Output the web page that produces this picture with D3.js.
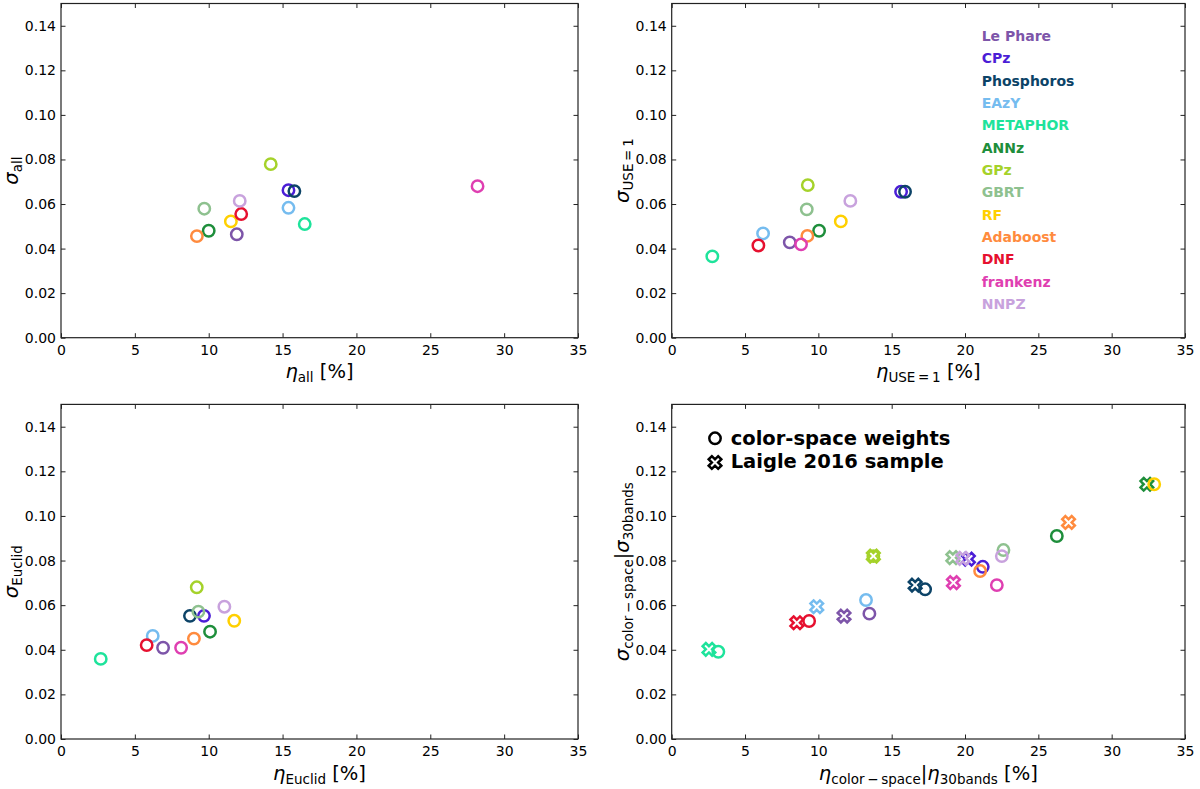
<!DOCTYPE html>
<html>
<head>
<meta charset="utf-8">
<script src="https://cdn.jsdelivr.net/npm/d3@7"></script>
<style>
  body { margin: 0; background: #fff; }
  text { font-family: "DejaVu Sans", sans-serif; }
</style>
</head>
<body>
<div id="chart"></div>
<script>
// photo-z codes, in the order of the legend
var codes = ['Le Phare', 'CPz', 'Phosphoros', 'EAzY', 'METAPHOR', 'ANNz', 'GPz',
             'GBRT', 'RF', 'Adaboost', 'DNF', 'frankenz', 'NNPZ'];
var codeColors = ['#7d55a9', '#4b1ed6', '#0c4367', '#75bcef', '#1ee39b', '#1e8e3b', '#a5d22a',
                  '#8ec18f', '#ffd000', '#ff8b3e', '#e6102f', '#df3fb1', '#c8a2dd'];

// panel a: all sources
var etaAll = [11.9, 15.4, 15.8, 15.4, 16.5, 10.0, 14.2, 9.7, 11.5, 9.2, 12.2, 28.2, 12.1];
var sigAll = [0.0464, 0.0662, 0.0658, 0.0583, 0.0510, 0.0480, 0.0779, 0.0579, 0.0522, 0.0456, 0.0555, 0.0680, 0.0614];

// panel b: USE = 1
var etaUse = [8.05, 15.64, 15.91, 6.23, 2.77, 10.05, 9.28, 9.21, 11.53, 9.25, 5.91, 8.82, 12.18];
var sigUse = [0.0428, 0.0655, 0.0655, 0.0468, 0.0365, 0.0480, 0.0685, 0.0576, 0.0522, 0.0457, 0.0414, 0.0419, 0.0614];

// panel c: Euclid selection
var etaEuclid = [6.91, 9.68, 8.73, 6.21, 2.69, 10.09, 9.19, 9.30, 11.73, 9.00, 5.80, 8.13, 11.06];
var sigEuclid = [0.0409, 0.0552, 0.0552, 0.0462, 0.0359, 0.0481, 0.0680, 0.0571, 0.0530, 0.0450, 0.0421, 0.0409, 0.0593];

// panel d: color-space weights (circles) and Laigle 2016 sample (crosses)
var etaColor = [13.48, 21.21, 17.28, 13.25, 3.18, 26.26, 13.75, 22.62, 32.90, 21.03, 9.37, 22.17, 22.51];
var sigColor = [0.0562, 0.0772, 0.0671, 0.0623, 0.0391, 0.0910, 0.0820, 0.0847, 0.1142, 0.0753, 0.0529, 0.0690, 0.0820];
var etaLaigle = [11.75, 20.23, 16.60, 9.89, 2.54, 32.40, 13.75, 19.17, null, 27.06, 8.53, 19.21, 19.85];
var sigLaigle = [0.0551, 0.0806, 0.0690, 0.0593, 0.0402, 0.1142, 0.0820, 0.0813, null, 0.0971, 0.0521, 0.0701, 0.0810];

var xTicks = [0, 5, 10, 15, 20, 25, 30, 35];
var yTicks = [0, 0.02, 0.04, 0.06, 0.08, 0.10, 0.12, 0.14];

var svg = d3.select('#chart').append('svg')
    .attr('width', 1200)
    .attr('height', 789);

// writes matplotlib style mathtext: pieces are [text, kind] with kind i (italic), s (subscript), r (roman)
function mathText(t, pieces) {
    var shift = 0;
    pieces.forEach(function (p) {
        var ts = t.append('tspan').text(p[0]);
        var want = p[1] === 's' ? 4 : 0;
        if (want !== shift) { ts.attr('dy', want - shift); shift = want; }
        if (p[1] === 'i') ts.attr('font-style', 'italic');
        if (p[1] === 's') ts.attr('font-size', 13.5);
    });
}

var crossPath = d3.symbol().type(d3.symbolCross).size(100)();

function panel(box, etas, sigs, xLab, yLab) {
    var x = d3.scaleLinear().domain([0, 35]).range([box.l, box.r]);
    var y = d3.scaleLinear().domain([0, 0.15]).range([box.b, box.t]);
    var g = svg.append('g');

    var bottom = g.append('g').attr('transform', 'translate(0,' + box.b + ')')
        .call(d3.axisBottom(x).tickValues(xTicks).tickSizeInner(-4.5).tickSizeOuter(0).tickPadding(7));
    var top = g.append('g').attr('transform', 'translate(0,' + box.t + ')')
        .call(d3.axisTop(x).tickValues(xTicks).tickSizeInner(-4.5).tickSizeOuter(0).tickFormat(''));
    var left = g.append('g').attr('transform', 'translate(' + box.l + ',0)')
        .call(d3.axisLeft(y).tickValues(yTicks).tickSizeInner(-4.5).tickSizeOuter(0).tickPadding(5)
            .tickFormat(d3.format('.2f')));
    var right = g.append('g').attr('transform', 'translate(' + box.r + ',0)')
        .call(d3.axisRight(y).tickValues(yTicks).tickSizeInner(-4.5).tickSizeOuter(0).tickFormat(''));

    [bottom, top, left, right].forEach(function (a) {
        a.select('.domain').remove();
        a.selectAll('line').attr('stroke', '#222').attr('stroke-width', 1);
        a.selectAll('text').attr('font-size', 14).attr('fill', '#000')
            .attr('font-family', '"DejaVu Sans", sans-serif');
    });
    g.append('rect')
        .attr('x', box.l).attr('y', box.t)
        .attr('width', box.r - box.l).attr('height', box.b - box.t)
        .attr('fill', 'none').attr('stroke', '#222').attr('stroke-width', 1.2);

    var xl = g.append('text')
        .attr('x', (box.l + box.r) / 2).attr('y', box.b + 40.5)
        .attr('text-anchor', 'middle').attr('font-size', 19.5);
    mathText(xl, xLab);

    var yl = g.append('text')
        .attr('transform', 'translate(' + (box.l - 43) + ',' + ((box.t + box.b) / 2) + ') rotate(-90)')
        .attr('text-anchor', 'middle').attr('font-size', 19.5);
    mathText(yl, yLab);

    if (etas) {
        g.selectAll('circle.pt')
            .data(codes)
            .enter().append('circle')
            .attr('class', 'pt')
            .attr('cx', function (d, i) { return x(etas[i]); })
            .attr('cy', function (d, i) { return y(sigs[i]); })
            .attr('r', 5.7)
            .attr('fill', 'none')
            .attr('stroke', function (d, i) { return codeColors[i]; })
            .attr('stroke-width', 2.5);
    }
    return { g: g, x: x, y: y };
}

var boxes = {
    tl: { l: 61, r: 578, t: 3.5, b: 337.7 },
    tr: { l: 671.7, r: 1185, t: 3.5, b: 337.7 },
    bl: { l: 61, r: 578, t: 404.4, b: 739 },
    br: { l: 671.7, r: 1185, t: 404.4, b: 739 }
};

panel(boxes.tl, etaAll, sigAll,
    [['\u03b7', 'i'], ['all', 's'], [' [%]', 'r']],
    [['\u03c3', 'i'], ['all', 's']]);

var pb = panel(boxes.tr, etaUse, sigUse,
    [['\u03b7', 'i'], ['USE\u2009=\u20091', 's'], [' [%]', 'r']],
    [['\u03c3', 'i'], ['USE\u2009=\u20091', 's']]);

// colored code legend
pb.g.selectAll('text.leg')
    .data(codes)
    .enter().append('text')
    .attr('class', 'leg')
    .attr('x', 981.7)
    .attr('y', function (d, i) { return 36 + i * 22.33 + 5; })
    .attr('font-size', 14)
    .attr('font-weight', 'bold')
    .attr('fill', function (d, i) { return codeColors[i]; })
    .text(function (d) { return d; });

panel(boxes.bl, etaEuclid, sigEuclid,
    [['\u03b7', 'i'], ['Euclid', 's'], [' [%]', 'r']],
    [['\u03c3', 'i'], ['Euclid', 's']]);

var pd = panel(boxes.br, null, null,
    [['\u03b7', 'i'], ['color\u2009\u2212\u2009space', 's'], ['|', 'r'], ['\u03b7', 'i'], ['30bands', 's'], [' [%]', 'r']],
    [['\u03c3', 'i'], ['color\u2009\u2212\u2009space', 's'], ['|', 'r'], ['\u03c3', 'i'], ['30bands', 's']]);

// per code: Laigle cross first, then the color-space circle
codes.forEach(function (c, i) {
    if (etaLaigle[i] !== null) {
        pd.g.append('path')
            .attr('d', crossPath)
            .attr('transform', 'translate(' + pd.x(etaLaigle[i]) + ',' + pd.y(sigLaigle[i]) + ') rotate(45)')
            .attr('fill', 'none')
            .attr('stroke', codeColors[i])
            .attr('stroke-width', 2.5)
            .attr('stroke-linejoin', 'miter');
    }
    pd.g.append('circle')
        .attr('cx', pd.x(etaColor[i]))
        .attr('cy', pd.y(sigColor[i]))
        .attr('r', 5.7)
        .attr('fill', 'none')
        .attr('stroke', codeColors[i])
        .attr('stroke-width', 2.5);
});

// marker legend
pd.g.append('circle')
    .attr('cx', 715).attr('cy', 438.3).attr('r', 5.7)
    .attr('fill', 'none').attr('stroke', '#000').attr('stroke-width', 2.5);
pd.g.append('text')
    .attr('x', 730.7).attr('y', 445)
    .attr('font-size', 19.5).attr('font-weight', 'bold')
    .text('color-space weights');
pd.g.append('path')
    .attr('d', crossPath)
    .attr('transform', 'translate(715,462.5) rotate(45)')
    .attr('fill', 'none').attr('stroke', '#000').attr('stroke-width', 2.5);
pd.g.append('text')
    .attr('x', 730.7).attr('y', 468.3)
    .attr('font-size', 19.5).attr('font-weight', 'bold')
    .text('Laigle 2016 sample');
</script>
</body>
</html>
